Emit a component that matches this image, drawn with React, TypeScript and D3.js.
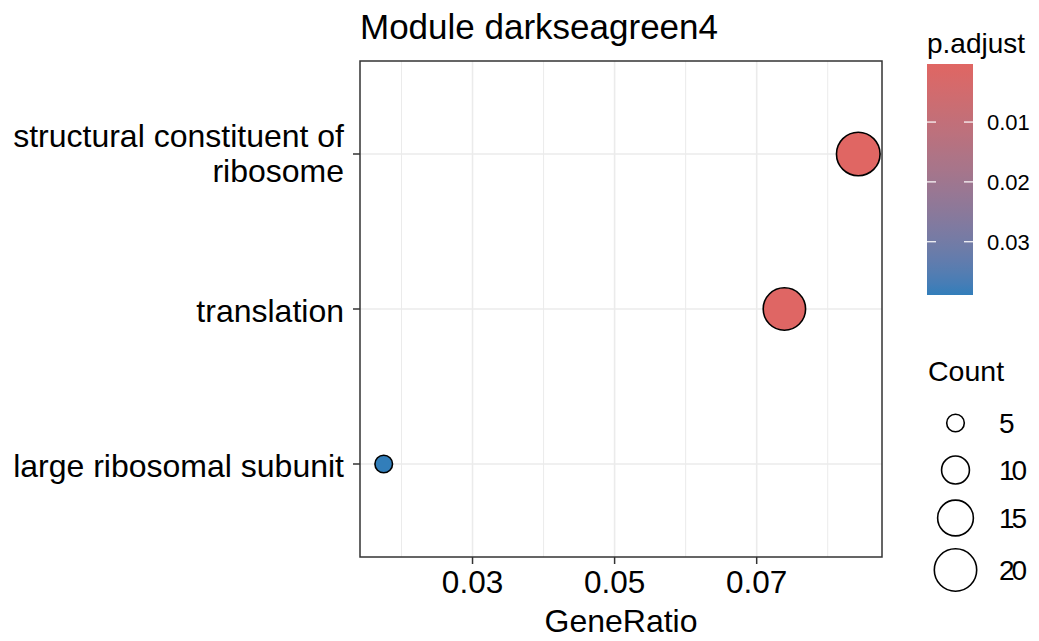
import React from "react";
import * as d3 from "d3";

// GO terms, top to bottom
const terms = ["structural constituent of ribosome", "translation", "large ribosomal subunit"];
const termLines = [["structural constituent of", "ribosome"], ["translation"], ["large ribosomal subunit"]];
const geneRatio = [0.0843, 0.0739, 0.0175];
const counts = [21, 20, 5];
const pAdjust = [0.0003, 0.0006, 0.0389];

const xTicks = [0.03, 0.05, 0.07];
const xMinor = [0.02, 0.04, 0.06, 0.08];
const colorTicks = [0.01, 0.02, 0.03];
const sizeBreaks = [5, 10, 15, 20];

const W = 1039;
const H = 641;
const FONT = "'Liberation Sans', Arial, Helvetica, sans-serif";

const panel = { left: 360, right: 882, top: 61, bottom: 557 };

export default function App() {
  const [gMin, gMax] = d3.extent(geneRatio) as [number, number];
  const pad = (gMax - gMin) * 0.05;
  const x = d3.scaleLinear().domain([gMin - pad, gMax + pad]).range([panel.left, panel.right]);
  const y = d3.scalePoint<string>().domain(terms).range([panel.top, panel.bottom]).padding(0.6);

  const [pMin, pMax] = d3.extent(pAdjust) as [number, number];
  const color = d3
    .scaleLinear<string>()
    .domain([pMin, pMax])
    .range(["#e06663", "#327eba"])
    .interpolate(d3.interpolateLab);

  const [cMin, cMax] = d3.extent(counts) as [number, number];
  const rSqrt = d3.scaleLinear().domain([Math.sqrt(cMin), Math.sqrt(cMax)]).range([9.6, 22.6]);
  const r = (c: number) => rSqrt(Math.sqrt(c));

  // colour bar geometry
  const bar = { x: 927, y: 64, w: 46, h: 231 };
  const cbY = d3.scaleLinear().domain([pMin, pMax]).range([bar.y, bar.y + bar.h]);
  const stops = d3.range(0, 1.0001, 0.05);

  const sizeRowY = [423, 470, 518, 570];

  return (
    <svg width={W} height={H} style={{ position: "absolute", left: 0, top: 0, background: "#fff" }} fontFamily={FONT}>
      <defs>
        <linearGradient id="pgrad" x1="0" y1="0" x2="0" y2="1">
          {stops.map((t) => (
            <stop key={t} offset={t} stopColor={color(pMin + t * (pMax - pMin))} />
          ))}
        </linearGradient>
      </defs>

      {/* title */}
      <text x={panel.left} y={39} fontSize={35} fill="#000">
        Module darkseagreen4
      </text>

      {/* grid */}
      {xMinor.map((v) => (
        <line key={"mn" + v} x1={x(v)} x2={x(v)} y1={panel.top} y2={panel.bottom} stroke="#EBEBEB" strokeWidth={1} />
      ))}
      {xTicks.map((v) => (
        <line key={"mj" + v} x1={x(v)} x2={x(v)} y1={panel.top} y2={panel.bottom} stroke="#EBEBEB" strokeWidth={1.6} />
      ))}
      {terms.map((t) => (
        <line key={"gy" + t} x1={panel.left} x2={panel.right} y1={y(t)!} y2={y(t)!} stroke="#EBEBEB" strokeWidth={1.6} />
      ))}

      {/* points */}
      {terms.map((t, i) => (
        <circle
          key={"pt" + t}
          cx={x(geneRatio[i])}
          cy={y(t)!}
          r={r(counts[i]) - 0.8}
          fill={color(pAdjust[i])}
          stroke="#000"
          strokeWidth={1.6}
        />
      ))}

      {/* panel border */}
      <rect
        x={panel.left}
        y={panel.top}
        width={panel.right - panel.left}
        height={panel.bottom - panel.top}
        fill="none"
        stroke="#333333"
        strokeWidth={1.5}
      />

      {/* x axis */}
      {xTicks.map((v) => (
        <g key={"xt" + v}>
          <line x1={x(v)} x2={x(v)} y1={panel.bottom} y2={panel.bottom + 7} stroke="#333333" strokeWidth={1.5} />
          <text x={x(v)} y={593} fontSize={31.5} textAnchor="middle" fill="#000">
            {d3.format(".2f")(v)}
          </text>
        </g>
      ))}
      <text x={(panel.left + panel.right) / 2} y={632} fontSize={32} textAnchor="middle" fill="#000">
        GeneRatio
      </text>

      {/* y axis */}
      {terms.map((t, i) => {
        const cy = y(t)!;
        const lines = termLines[i];
        const first = lines.length === 1 ? cy + 12.5 : cy - 7;
        return (
          <g key={"yt" + t}>
            <line x1={panel.left - 7} x2={panel.left} y1={cy} y2={cy} stroke="#333333" strokeWidth={1.5} />
            {lines.map((ln, j) => (
              <text key={ln} x={344} y={first + j * 35} fontSize={32} textAnchor="end" fill="#000">
                {ln}
              </text>
            ))}
          </g>
        );
      })}

      {/* p.adjust colour bar */}
      <text x={927} y={53} fontSize={28} fill="#000">
        p.adjust
      </text>
      <rect x={bar.x} y={bar.y} width={bar.w} height={bar.h} fill="url(#pgrad)" />
      {colorTicks.map((v) => (
        <g key={"ct" + v}>
          <line x1={bar.x} x2={bar.x + 9} y1={cbY(v)} y2={cbY(v)} stroke="#fff" strokeWidth={1.2} />
          <line x1={bar.x + bar.w - 9} x2={bar.x + bar.w} y1={cbY(v)} y2={cbY(v)} stroke="#fff" strokeWidth={1.2} />
          <text x={987} y={cbY(v) + 8} fontSize={22} fill="#000">
            {d3.format(".2f")(v)}
          </text>
        </g>
      ))}

      {/* Count size legend */}
      <text x={928} y={381} fontSize={28.5} fill="#000">
        Count
      </text>
      {sizeBreaks.map((c, i) => (
        <g key={"sz" + c}>
          <circle cx={955.5} cy={sizeRowY[i]} r={r(c) - 0.8} fill="none" stroke="#000" strokeWidth={1.6} />
          <text x={999} y={sizeRowY[i] + 10} fontSize={28} letterSpacing={-3} fill="#000">
            {c}
          </text>
        </g>
      ))}
    </svg>
  );
}
